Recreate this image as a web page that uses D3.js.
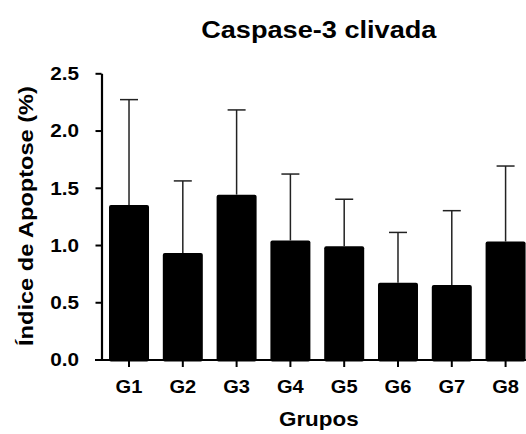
<!DOCTYPE html>
<html>
<head>
<meta charset="utf-8">
<script src="https://cdn.jsdelivr.net/npm/d3@7"></script>
<style>
  body { margin: 0; background: #fff; }
  text { font-family: "Liberation Sans", Arial, sans-serif; font-weight: bold; fill: #000; }
</style>
</head>
<body>
<div id="chart"></div>
<script>
var groups = ["G1", "G2", "G3", "G4", "G5", "G6", "G7", "G8"];
var means = [1.35, 0.93, 1.44, 1.04, 0.99, 0.67, 0.65, 1.03];
var upper = [2.27, 1.56, 2.18, 1.62, 1.40, 1.11, 1.30, 1.69];
var yTicks = [0, 0.5, 1.0, 1.5, 2.0, 2.5];

var W = 526, H = 434;

var svg = d3.select("#chart")
            .append("svg")
            .attr("width", W)
            .attr("height", H);

var x = d3.scaleBand()
          .domain(groups)
          .range([101, 533.6])
          .paddingInner(0.2565)
          .paddingOuter(0.149);

var y = d3.scaleLinear()
          .domain([0, 2.5])
          .range([359.5, 73.3]);

// bars
svg.selectAll("rect.bar")
   .data(groups)
   .enter().append("rect")
   .attr("class", "bar")
   .attr("x", function(d) { return x(d); })
   .attr("y", function(d, i) { return y(means[i]); })
   .attr("width", x.bandwidth())
   .attr("height", function(d, i) { return y(0) - y(means[i]) + 2; })
   .attr("rx", 2)
   .attr("fill", "#000");

// error bars (upper only)
var capW = 18;
var err = svg.selectAll("g.err")
             .data(groups)
             .enter().append("g")
             .attr("class", "err")
             .attr("stroke", "#222")
             .attr("stroke-width", 1.5);

err.append("line")
   .attr("x1", function(d) { return x(d) + x.bandwidth() / 2; })
   .attr("x2", function(d) { return x(d) + x.bandwidth() / 2; })
   .attr("y1", function(d, i) { return y(means[i]); })
   .attr("y2", function(d, i) { return y(upper[i]); });

err.append("line")
   .attr("x1", function(d) { return x(d) + x.bandwidth() / 2 - capW / 2; })
   .attr("x2", function(d) { return x(d) + x.bandwidth() / 2 + capW / 2; })
   .attr("y1", function(d, i) { return y(upper[i]); })
   .attr("y2", function(d, i) { return y(upper[i]); });

// y axis
var yAxis = svg.append("g")
               .attr("transform", "translate(101.5,0)")
               .call(d3.axisLeft(y)
                       .tickValues(yTicks)
                       .tickFormat(d3.format(".1f"))
                       .tickSize(6)
                       .tickSizeOuter(0));
yAxis.select(".domain").attr("stroke", "#000").attr("stroke-width", 2.2);
yAxis.selectAll(".tick line").attr("stroke", "#000").attr("stroke-width", 2);
yAxis.selectAll(".tick text")
     .attr("x", -22.5 / 1.12)
     .attr("dy", "0.34em")
     .attr("transform", "scale(1.12,1)")
     .style("font-size", "18.5px")
     .style("font-family", "Liberation Sans, Arial, sans-serif")
     .style("font-weight", "bold")
     .attr("fill", "#000");

// x axis
var xAxis = svg.append("g")
               .attr("transform", "translate(0,360)")
               .call(d3.axisBottom(x).tickSize(7).tickSizeOuter(0));
xAxis.select(".domain").remove();
xAxis.append("line")
     .attr("x1", 95).attr("x2", W)
     .attr("y1", 0).attr("y2", 0)
     .attr("stroke", "#000").attr("stroke-width", 2.2);
xAxis.selectAll(".tick line").attr("stroke", "#000").attr("stroke-width", 2);
xAxis.selectAll(".tick text")
     .attr("y", 0)
     .attr("dy", 0)
     .attr("transform", "translate(0,33) scale(1.08,1)")
     .style("font-size", "18.6px")
     .style("font-family", "Liberation Sans, Arial, sans-serif")
     .style("font-weight", "bold")
     .attr("fill", "#000");

// titles
svg.append("text")
   .attr("text-anchor", "middle")
   .attr("transform", "translate(318.8,37.5) scale(1.18,1)")
   .style("font-size", "23px")
   .text("Caspase-3 clivada");

svg.append("text")
   .attr("text-anchor", "middle")
   .attr("transform", "translate(318.8,426) scale(1.15,1)")
   .style("font-size", "19.5px")
   .text("Grupos");

svg.append("text")
   .attr("text-anchor", "middle")
   .attr("transform", "translate(33,216) rotate(-90) scale(1.18,1)")
   .style("font-size", "20px")
   .text("Índice de Apoptose (%)");
</script>
</body>
</html>
